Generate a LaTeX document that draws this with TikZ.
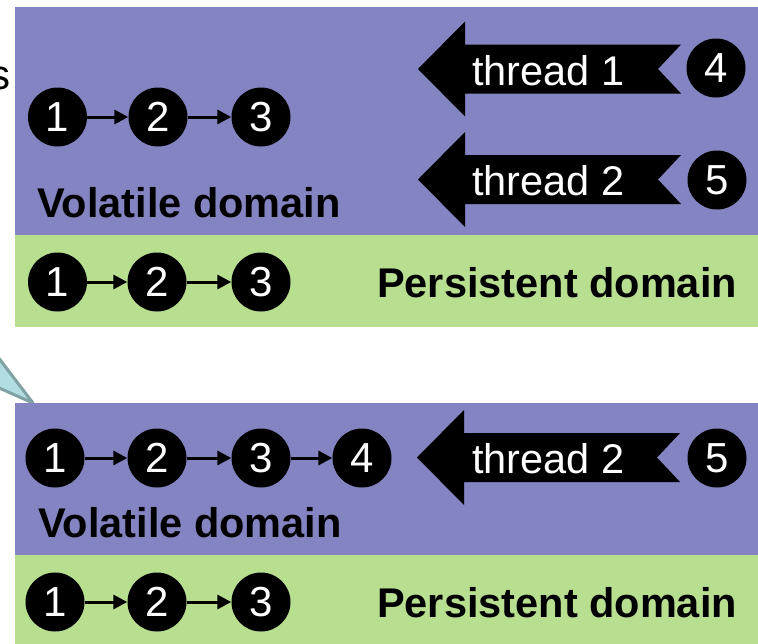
\documentclass[tikz,border=0pt]{standalone}
\usepackage{fontspec}
\setmainfont{Liberation Sans}
\usetikzlibrary{arrows.meta}
\definecolor{volblue}{RGB}{132,132,194}
\definecolor{pergreen}{RGB}{184,222,144}
\definecolor{callfill}{RGB}{178,222,226}
\definecolor{callline}{RGB}{128,162,164}
\tikzset{
  num/.style={circle, fill=black, text=white, minimum size=59pt, inner sep=0pt, font=\fontsize{42}{48}\selectfont},
  link/.style={-{Triangle[length=14pt,width=14pt]}, line width=3pt},
  dom/.style={inner sep=0pt, font=\bfseries\fontsize{41.5}{48}\selectfont},
  thr/.style={inner sep=0pt, text=white, font=\fontsize{41.5}{48}\selectfont},
  tarrow/.pic={\fill[black] (0,0) -- (47,-47.5) -- (47,-24.5) -- (263,-24.5) -- (240,0) -- (263,24.5) -- (47,24.5) -- (47,47.5) -- cycle;}
}
\begin{document}
\begin{tikzpicture}[x=1pt,y=-1pt]
\useasboundingbox (0,0) rectangle (758,643);
\clip (0,0) rectangle (758,643);
% callout wedge
\filldraw[fill=callfill, draw=callline, line width=3pt, line join=round] (-12,344) -- (33,403) -- (-12,383) -- cycle;
% cut-off letter
\node[anchor=base east, inner sep=0pt, font=\fontsize{42}{48}\selectfont] (s) at (10.5,89) {s};
% top panel
\fill[volblue] (15,7) rectangle (760,235);
\fill[pergreen] (15,235) rectangle (760,327);
\node[num] (v1) at (57.5,117) {1};
\node[num] (v2) at (158,117) {2};
\node[num] (v3) at (261,117) {3};
\draw[link] (v1) -- (v2);
\draw[link] (v2) -- (v3);
\node[dom, anchor=base west] (vd1) at (37,217) {Volatile domain};
\pic at (418,69) {tarrow};
\node[thr, anchor=base west] (t1) at (472,85) {thread 1};
\node[num] (c4) at (716,68) {4};
\pic at (418,179.5) {tarrow};
\node[thr, anchor=base west] (t2) at (472,195.5) {thread 2};
\node[num] (c5) at (717,180) {5};
\node[num] (p1) at (57.5,282) {1};
\node[num] (p2) at (157,282) {2};
\node[num] (p3) at (261,282) {3};
\draw[link] (p1) -- (p2);
\draw[link] (p2) -- (p3);
\node[dom, anchor=base west] (pd1) at (377,297) {Persistent domain};
% bottom panel
\fill[volblue] (15,403) rectangle (760,555);
\fill[pergreen] (15,555) rectangle (760,645);
\node[num] (b1) at (55,458) {1};
\node[num] (b2) at (157,458) {2};
\node[num] (b3) at (261,458) {3};
\node[num] (b4) at (362,458) {4};
\draw[link] (b1) -- (b2);
\draw[link] (b2) -- (b3);
\draw[link] (b3) -- (b4);
\node[dom, anchor=base west] (vd2) at (38,537) {Volatile domain};
\pic at (417,457.5) {tarrow};
\node[thr, anchor=base west] (t3) at (472,473.5) {thread 2};
\node[num] (d5) at (717,458) {5};
\node[num] (q1) at (55,602) {1};
\node[num] (q2) at (157,602) {2};
\node[num] (q3) at (261,602) {3};
\draw[link] (q1) -- (q2);
\draw[link] (q2) -- (q3);
\node[dom, anchor=base west] (pd2) at (377,617) {Persistent domain};
\end{tikzpicture}
\end{document}
